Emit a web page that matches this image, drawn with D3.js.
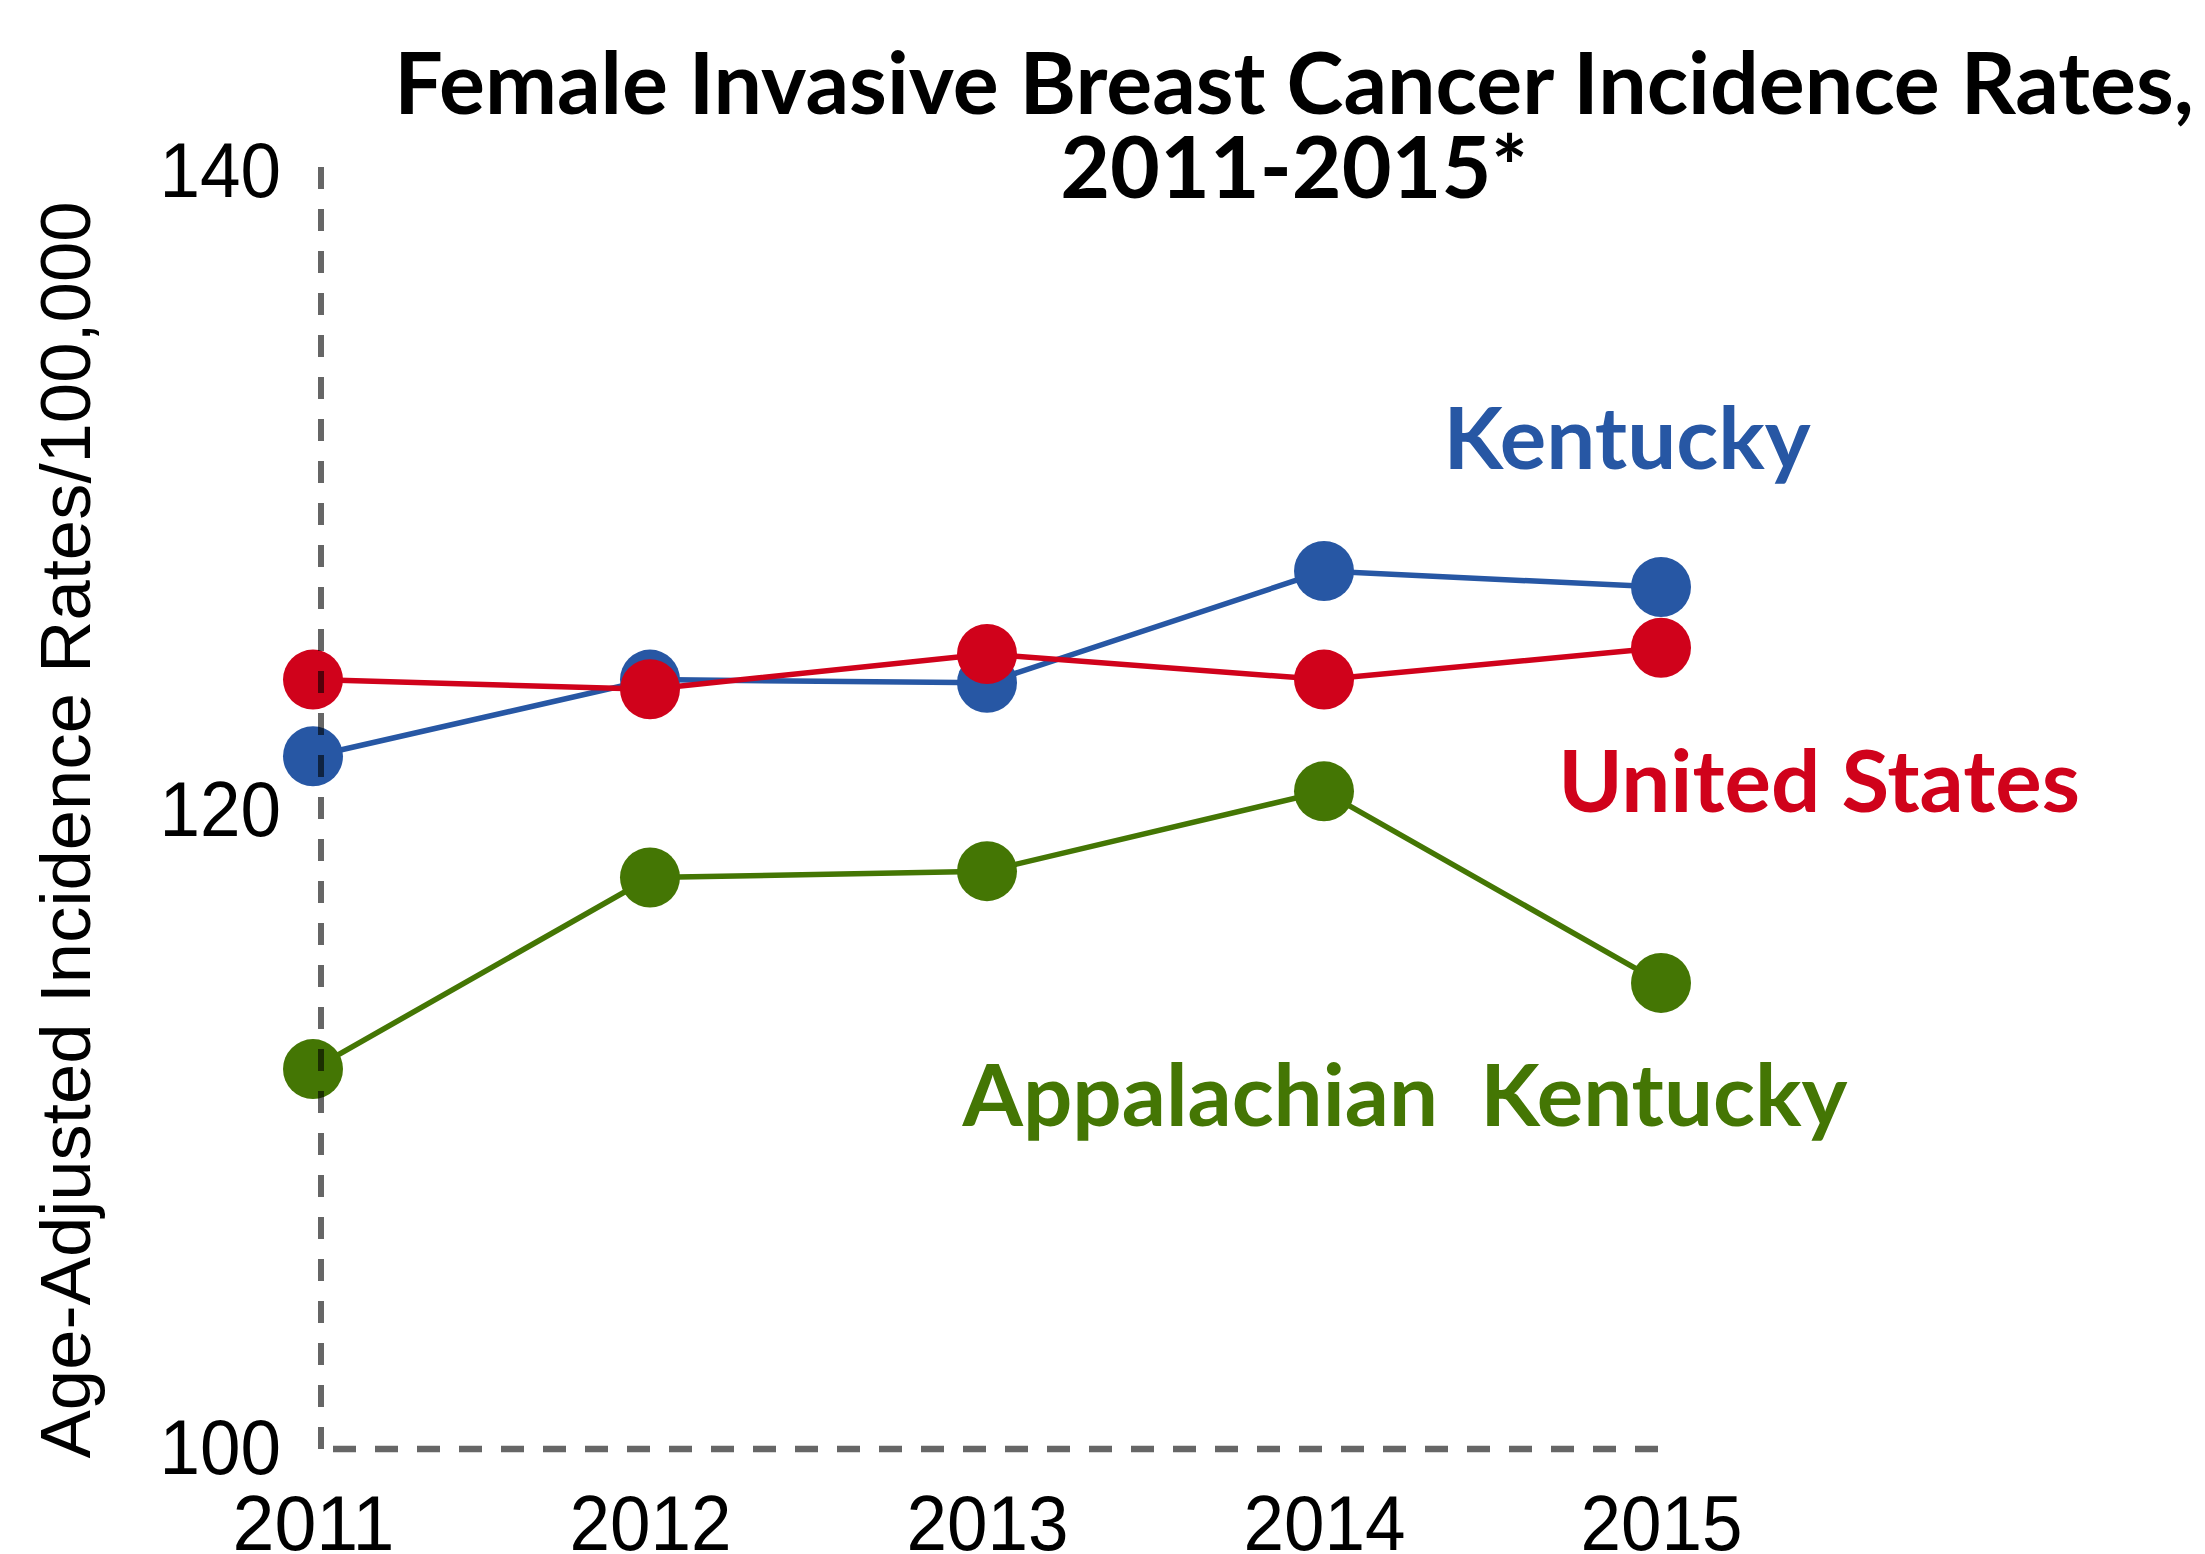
<!DOCTYPE html>
<html>
<head>
<meta charset="utf-8">
<script src="https://cdn.jsdelivr.net/npm/d3@7"></script>
<style>
  body { margin: 0; background: #fff; }
</style>
</head>
<body>
<div id="chart"></div>
<script>
const years = [2011, 2012, 2013, 2014, 2015];
const kentucky = [121.7, 124.1, 124.0, 127.5, 127.0];
const unitedStates = [124.1, 123.8, 124.9, 124.1, 125.1];
const appalachian = [111.9, 117.9, 118.1, 120.6, 114.6];
const yTicks = [100, 120, 140];

const seriesNames = ['Kentucky', 'United States', 'Appalachian\u00a0\u00a0Kentucky'];
const seriesColors = ['#2757a4', '#d0021b', '#447604'];

const width = 2205, height = 1554;
const digitW = 40.5; // tick digits are a bit narrow in the original

const svg = d3.select('#chart')
  .append('svg')
    .attr('width', width)
    .attr('height', height)
    .style('background', '#fff');

const x = d3.scaleLinear()
    .domain([2011, 2015])
    .range([313, 1661]);

const y = d3.scaleLinear()
    .domain([100, 140])
    .range([1449, 172]);

// title
const title = svg.append('text')
    .attr('text-anchor', 'middle')
    .attr('font-family', 'Lato, sans-serif')
    .attr('font-weight', 'bold')
    .attr('font-size', 86)
    .attr('fill', '#000');
title.append('tspan').attr('x', 1294).attr('y', 114)
    .text('Female Invasive Breast Cancer Incidence Rates,');
title.append('tspan').attr('x', 1294).attr('y', 198)
    .text('2011-2015*');

// y axis title
svg.append('text')
    .attr('transform', 'translate(90,830) rotate(-90)')
    .attr('text-anchor', 'middle')
    .attr('font-family', '"Liberation Sans Narrow", "Arial Narrow", sans-serif')
    .attr('font-size', 70)
    .attr('textLength', 1257)
    .attr('lengthAdjust', 'spacingAndGlyphs')
    .text('Age-Adjusted Incidence Rates/100,000');

// axes (labels only)
const yAxis = d3.axisLeft(y).tickValues(yTicks).tickSize(0).tickPadding(40);
svg.append('g')
    .attr('transform', 'translate(321,0)')
    .call(yAxis)
    .call(g => g.select('.domain').remove())
    .call(g => g.selectAll('text')
        .attr('font-family', 'Arial, "Liberation Sans", sans-serif')
        .attr('font-size', 78)
        .attr('textLength', d => String(d).length * digitW)
        .attr('lengthAdjust', 'spacingAndGlyphs')
        .attr('fill', '#000'));

const xAxis = d3.axisBottom(x).tickValues(years).tickFormat(d3.format('d')).tickSize(0).tickPadding(46);
svg.append('g')
    .attr('transform', `translate(0,${y(100)})`)
    .call(xAxis)
    .call(g => g.select('.domain').remove())
    .call(g => g.selectAll('text')
        .attr('font-family', 'Arial, "Liberation Sans", sans-serif')
        .attr('font-size', 78)
        .attr('textLength', d => String(d).length * digitW)
        .attr('lengthAdjust', 'spacingAndGlyphs')
        .attr('fill', '#000'));

// series
const allSeries = [kentucky, unitedStates, appalachian];
const line = d3.line()
    .x((d, i) => x(years[i]))
    .y(d => y(d));

allSeries.forEach((vals, s) => {
  const g = svg.append('g');
  g.append('path')
      .datum(vals)
      .attr('fill', 'none')
      .attr('stroke', seriesColors[s])
      .attr('stroke-width', 5.5)
      .attr('d', line);
  g.selectAll('circle')
    .data(vals)
    .join('circle')
      .attr('cx', (d, i) => x(years[i]))
      .attr('cy', d => y(d))
      .attr('r', 30)
      .attr('fill', seriesColors[s]);
});

// dashed axis lines, drawn on top
svg.append('line')
    .attr('x1', 321).attr('x2', 321)
    .attr('y1', y(140) - 5).attr('y2', y(100))
    .attr('stroke', '#000').attr('stroke-opacity', 0.6)
    .attr('stroke-width', 6)
    .attr('stroke-dasharray', '22,20');
svg.append('line')
    .attr('x1', 333).attr('x2', x(2015) + 8)
    .attr('y1', y(100)).attr('y2', y(100))
    .attr('stroke', '#000').attr('stroke-opacity', 0.6)
    .attr('stroke-width', 6.5)
    .attr('stroke-dasharray', '23,19');

// series labels
const labelPos = [[1627, 469], [1819, 812], [1405, 1126]];
svg.selectAll('.series-label')
  .data(seriesNames)
  .join('text')
    .attr('class', 'series-label')
    .attr('x', (d, i) => labelPos[i][0])
    .attr('y', (d, i) => labelPos[i][1])
    .attr('text-anchor', 'middle')
    .attr('font-family', 'Lato, sans-serif')
    .attr('font-weight', 'bold')
    .attr('font-size', 87)
    .attr('fill', (d, i) => seriesColors[i])
    .text(d => d);
</script>
</body>
</html>
